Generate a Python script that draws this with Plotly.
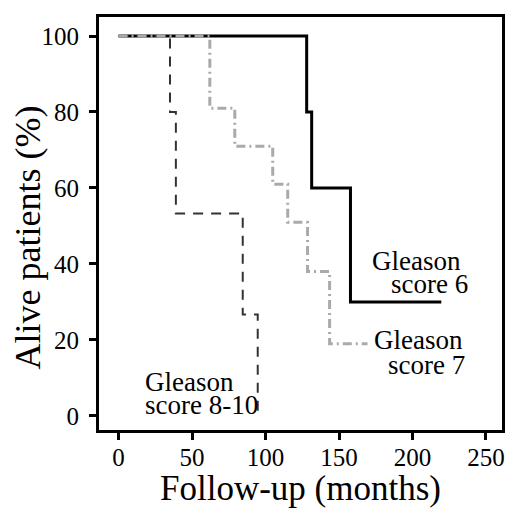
import plotly.graph_objects as go

# Kaplan-Meier step data (months, % alive)
times_g6 = [0, 128.0, 131.4, 157.8, 219.6]
surv_g6 = [100, 80, 60, 30, 30]

times_g7 = [0, 62.1, 79.1, 104.9, 115.1, 128.6, 143.6, 169.4]
surv_g7 = [100, 81, 71, 61, 51, 38, 19, 19]

times_g810 = [0, 35.0, 39.0, 84.5, 94.7]
surv_g810 = [100, 80, 53.3, 26.7, 0]

x_ticks = [0, 50, 100, 150, 200, 250]
y_ticks = [0, 20, 40, 60, 80, 100]

FONT = "Liberation Serif, Times New Roman, serif"

fig = go.Figure()
fig.add_trace(go.Scatter(x=times_g6, y=surv_g6, mode="lines", line_shape="hv",
                         line=dict(color="black", width=3), name="Gleason score 6"))
fig.add_trace(go.Scatter(x=times_g810, y=surv_g810, mode="lines", line_shape="hv",
                         line=dict(color="#333333", width=2, dash="10px,8px"), name="Gleason score 8-10"))
fig.add_trace(go.Scatter(x=times_g7, y=surv_g7, mode="lines", line_shape="hv",
                         line=dict(color="#aaaaaa", width=3, dash="9px,4px,2px,4px"), name="Gleason score 7"))

labels = [
    ("Gleason", 234.4, 40.8, "right"),
    ("score 6", 239.1, 34.7, "right"),
    ("Gleason", 235.7, 20.0, "right"),
    ("score 7", 237.1, 13.4, "right"),
    ("Gleason", 16.7, 8.9, "left"),
    ("score 8-10", 16.7, 2.9, "left"),
]
for txt, x, y, anc in labels:
    fig.add_annotation(x=x, y=y, text=txt, showarrow=False, xanchor=anc, yanchor="middle",
                       font=dict(family=FONT, size=27, color="black"))

# axis titles
fig.add_annotation(text="Follow-up (months)", xref="paper", yref="paper", x=0.5, y=0,
                   xanchor="center", yanchor="middle", yshift=-58, showarrow=False,
                   font=dict(family=FONT, size=35, color="black"))
fig.add_annotation(text="Alive patients (%)", xref="paper", yref="paper", x=0, y=0.5,
                   xanchor="center", yanchor="middle", xshift=-72, yshift=-14, textangle=-90,
                   showarrow=False, font=dict(family=FONT, size=36, color="black"))

axis_common = dict(showgrid=False, zeroline=False, showline=True, mirror=True,
                   linecolor="black", linewidth=3, ticks="outside", ticklen=7,
                   tickwidth=3, tickcolor="black", automargin=False,
                   tickfont=dict(family=FONT, size=25, color="black"))

fig.update_xaxes(range=[-13.3, 260.9], tickvals=x_ticks, ticklabelstandoff=-4, **axis_common)
fig.update_yaxes(range=[-3.7, 105], tickvals=y_ticks, ticklabelstandoff=5, **axis_common)

fig.update_layout(width=508, height=508, showlegend=False,
                  margin=dict(l=99, r=6, t=17, b=78),
                  plot_bgcolor="white", paper_bgcolor="white")

fig.write_html("out.html", config={"displayModeBar": False},
               post_script="document.body.style.margin='0';document.body.style.overflow='hidden';")
